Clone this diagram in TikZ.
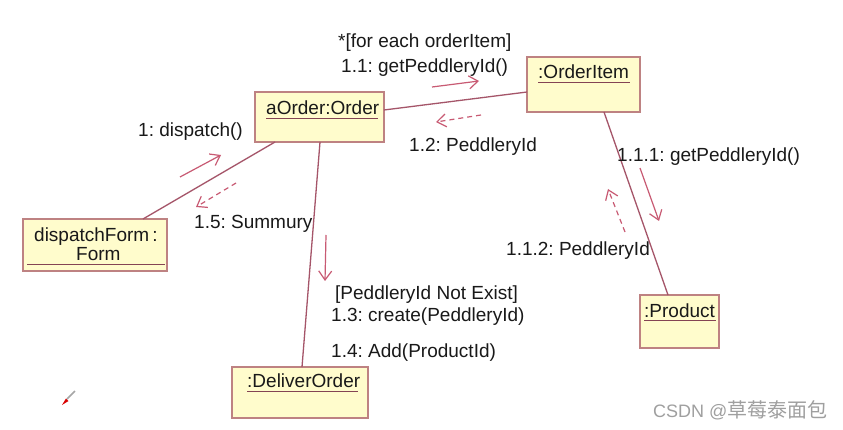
\documentclass[tikz,border=0pt]{standalone}
\usepackage{fontspec}
\setmainfont{Liberation Sans}
\newfontfamily\cjk{Noto Sans CJK SC}
\usetikzlibrary{arrows.meta}
\frenchspacing
\definecolor{boxfill}{RGB}{255,252,204}
\definecolor{boxline}{RGB}{190,130,130}
\definecolor{linkc}{RGB}{165,85,105}
\definecolor{msgc}{RGB}{200,90,115}
\definecolor{txt}{RGB}{25,25,25}
\tikzset{
  objbox/.style={draw=boxline, fill=boxfill, line width=1.2pt, inner sep=0pt},
  objtext/.style={anchor=base west, inner sep=0pt, text=txt, font=\fontsize{19}{22}\selectfont},
  uline/.style={draw=linkc!80!black, line width=1pt},
  link/.style={draw=linkc, line width=1.3pt},
  msg/.style={draw=msgc, line width=1.2pt, -{Straight Barb[length=9pt,width=13pt,line width=1.2pt]}},
  rmsg/.style={msg, dashed, dash pattern=on 5pt off 4pt},
  lbl/.style={anchor=base west, inner sep=0pt, text=txt, font=\fontsize{19}{22}\selectfont},
}
\begin{document}
\begin{tikzpicture}[x=1pt,y=-1pt]
\useasboundingbox (0,0) rectangle (843,430);
\fill[white] (0,0) rectangle (843,430);

% boxes
\node[objbox, minimum width=129pt, minimum height=50pt] (order) at (319.5,117) {};
\node[objbox, minimum width=113pt, minimum height=55pt] (item) at (583.5,84.5) {};
\node[objbox, minimum width=144pt, minimum height=52pt] (form) at (95,245) {};
\node[objbox, minimum width=79pt, minimum height=53pt] (product) at (679.5,321.5) {};
\node[objbox, minimum width=136pt, minimum height=51pt] (deliver) at (300,392.5) {};

% box texts
\node[objtext] (orderT) at (266,115) {aOrder:Order};
\draw[uline] (266,118.5) -- (378,118.5);
\node[objtext] (itemT) at (538,79) {:OrderItem};
\draw[uline] (538,82.5) -- (630,82.5);
\node[objtext] (formT1) at (34,242) {dispatchForm\kern3pt:};
\node[objtext] (formT2) at (76,261) {Form};
\draw[uline] (27,265) -- (165,265);
\node[objtext] (productT) at (644,317) {:Product};
\draw[uline] (644,320.5) -- (716,320.5);
\node[objtext] (deliverT) at (247,387) {:DeliverOrder};
\draw[uline] (247,391) -- (358,391);

% links
\coordinate (oR) at (384,110);
\coordinate (iL) at (527,92);
\draw[link] (oR) -- (iL);
\coordinate (iB) at (604,112);
\coordinate (pT) at (668,295);
\draw[link] (iB) -- (pT);
\coordinate (oBL) at (275,142);
\coordinate (fT) at (143,219);
\draw[link] (oBL) -- (fT);
\coordinate (oB) at (320,142);
\coordinate (dT) at (302,367);
\draw[link] (oB) -- (dT);

% messages
\coordinate (m11a) at (432,87); \coordinate (m11b) at (479,81);
\draw[msg] (m11a) -- (m11b);
\coordinate (m12a) at (481,115); \coordinate (m12b) at (436,122);
\draw[rmsg] (m12a) -- (m12b);
\coordinate (m111a) at (640,168); \coordinate (m111b) at (659,221);
\draw[msg] (m111a) -- (m111b);
\coordinate (m112a) at (625,232); \coordinate (m112b) at (608,189);
\draw[rmsg] (m112a) -- (m112b);
\coordinate (m1a) at (180,177); \coordinate (m1b) at (221,155);
\draw[msg] (m1a) -- (m1b);
\coordinate (m15a) at (236,183); \coordinate (m15b) at (196,207);
\draw[rmsg] (m15a) -- (m15b);
\coordinate (m13a) at (326,235); \coordinate (m13b) at (325,281);
\draw[msg] (m13a) -- (m13b);

% labels
\node[lbl] (l11a) at (338,48) {*[for each orderItem]};
\node[lbl] (l11b) at (341,73) {1.1: getPeddleryId()};
\node[lbl] (l12) at (409,152) {1.2: PeddleryId};
\node[lbl] (l1) at (138,137) {1: dispatch()};
\node[lbl] (l15) at (194,229) {1.5: Summury};
\node[lbl] (l111) at (617,162) {1.1.1: getPeddleryId()};
\node[lbl] (l112) at (506,256) {1.1.2: PeddleryId};
\node[lbl] (l13a) at (335,299) {[PeddleryId Not Exist]};
\node[lbl] (l13b) at (331,321) {1.3: create(PeddleryId)};
\node[lbl] (l14) at (331,357) {1.4: Add(ProductId)};

% pencil cursor
\draw[gray!70, line width=1.6pt] (67,399) -- (75,391);
\fill[red!85!black] (62,405) -- (66,398.5) -- (68.5,401) -- cycle;

% watermark
\node[anchor=base west, inner sep=0pt, text=gray!75, font=\fontsize{18}{20}\selectfont] (wm) at (653,417) {CSDN @{\cjk\fontsize{20}{22}\selectfont 草莓泰面包}};
\end{tikzpicture}
\end{document}
